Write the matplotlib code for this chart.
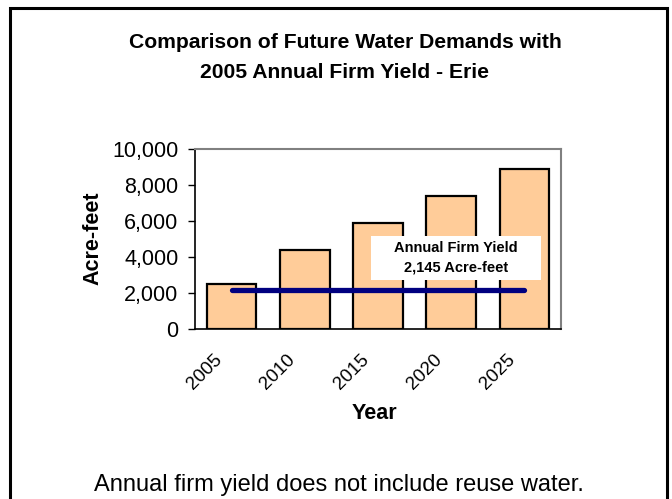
import matplotlib.pyplot as plt
import matplotlib.transforms as mtransforms
from matplotlib.patches import Rectangle
from matplotlib.ticker import FuncFormatter

plt.rcParams['font.family'] = ['Liberation Sans', 'DejaVu Sans']

years = ['2005', '2010', '2015', '2020', '2025']
demand = [2480, 4390, 5900, 7390, 8870]
firm_yield = 2145

W, H = 672, 499
fig = plt.figure(figsize=(W / 100, H / 100), dpi=100)

# outer frame (bottom edge runs off the image)
fig.patches.append(Rectangle((10 / W, -0.05), 657 / W, (H - 8) / H + 0.05,
                             transform=fig.transFigure, fill=False,
                             edgecolor='black', linewidth=2.2))

ax = fig.add_axes([195 / W, (H - 329) / H, 366 / W, 180 / H])
x = range(len(years))
ax.bar(x, demand, width=0.68, color='#FFCC99', edgecolor='black', linewidth=1.6, zorder=2)
ax.plot([0, len(years) - 1], [firm_yield, firm_yield], color='#000080', linewidth=3.8,
        solid_capstyle='round', zorder=3)

ax.set_xlim(-0.5, len(years) - 0.5)
ax.set_ylim(0, 10000)
ax.set_yticks(range(0, 10001, 2000))
ax.yaxis.set_major_formatter(FuncFormatter(lambda v, p: f'{int(v):,}'))
ax.tick_params(axis='y', length=5, width=1, labelsize=15.5, pad=7)
ax.set_xticks(list(x))
ax.set_xticklabels(years, rotation=45, ha='right', rotation_mode='anchor', fontsize=13.5)
ax.tick_params(axis='x', length=0, pad=16)
shift = mtransforms.ScaledTranslation(-18 / 100, 0, fig.dpi_scale_trans)
for lbl in ax.get_xticklabels():
    lbl.set_transform(lbl.get_transform() + shift)

ax.spines['left'].set_color('black')
ax.spines['bottom'].set_color('black')
ax.spines['left'].set_linewidth(1.2)
ax.spines['bottom'].set_linewidth(1.2)
ax.spines['top'].set_color('#808080')
ax.spines['right'].set_color('#808080')
ax.spines['top'].set_linewidth(1.5)
ax.spines['right'].set_linewidth(1.5)

ax.set_ylabel('Acre-feet', fontsize=15.5, fontweight='bold')
ax.yaxis.set_label_coords(-0.251, 0.506)
ax.set_xlabel('Year', fontsize=15.5, fontweight='bold')
ax.xaxis.set_label_coords(0.49, -0.41)

# annotation box
ax.add_patch(Rectangle((1.90, 2722), 2.32, 2445, facecolor='white', edgecolor='none', zorder=4))
ax.text(3.06, 3944, f'Annual Firm Yield\n{firm_yield:,} Acre-feet', ha='center', va='center',
        fontsize=10.5, fontweight='bold', linespacing=1.5, zorder=5)

fig.text(345 / W, 1 - 43 / H, 'Comparison of Future Water Demands with', ha='center',
         va='center', fontsize=15.2, fontweight='bold')
fig.text(345 / W, 1 - 72 / H, '2005 Annual Firm Yield - Erie', ha='center',
         va='center', fontsize=15.2, fontweight='bold')
fig.text(339 / W, 1 - 485 / H, 'Annual firm yield does not include reuse water.', ha='center',
         va='center', fontsize=17)

fig.savefig('out.png', dpi=100)
